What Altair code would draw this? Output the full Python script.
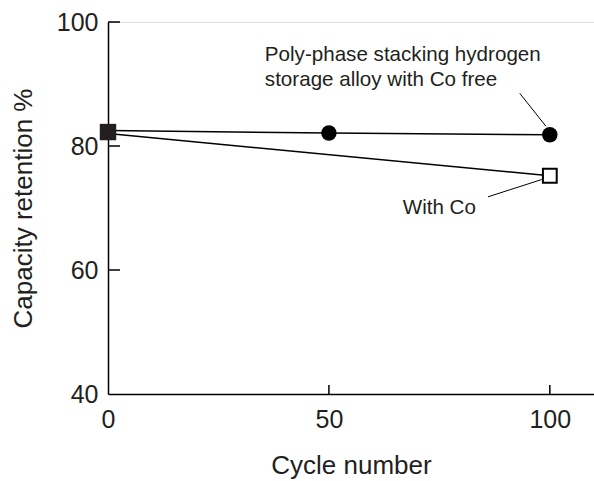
import altair as alt
import pandas as pd

# Capacity retention vs. cycle number
cycles_free = [0, 50, 100]
retention_free = [82.5, 82.1, 81.8]
cycles_co = [0, 100]
retention_co = [82.0, 75.2]

y_ticks = [40, 60, 80, 100]
x_ticks = [0, 50, 100]

FONT = "Liberation Sans"
INK = "#231f20"
W, H = 486, 372

x_scale = alt.Scale(domain=[0, 110], nice=False, zero=False)
y_scale = alt.Scale(domain=[40, 100], nice=False, zero=False)

free_df = pd.DataFrame({"cycle": cycles_free, "ret": retention_free})
co_df = pd.DataFrame({"cycle": cycles_co, "ret": retention_co})

x_enc = alt.X("cycle:Q", scale=x_scale,
              axis=alt.Axis(title="Cycle number", values=x_ticks, grid=False,
                            tickSize=0, labelPadding=13, labelFlush=False, domainColor="black",
                            domainWidth=1.5, labelFontSize=25, titleFontSize=26,
                            labelColor=INK, titleColor=INK, titleFontWeight="normal",
                            labelFont=FONT, titleFont=FONT, titlePadding=20))
y_enc = alt.Y("ret:Q", scale=y_scale,
              axis=alt.Axis(title="Capacity retention %", values=y_ticks, grid=False,
                            tickSize=0, labelPadding=10, labelFlush=False, domainColor="black",
                            domainWidth=1.5, labelFontSize=25, titleFontSize=26,
                            labelColor=INK, titleColor=INK, titleFontWeight="normal",
                            labelFont=FONT, titleFont=FONT, titlePadding=20))

line_free = alt.Chart(free_df).mark_line(color="black", strokeWidth=1.5).encode(x=x_enc, y=y_enc)
line_co = alt.Chart(co_df).mark_line(color="black", strokeWidth=1.5).encode(x="cycle:Q", y="ret:Q")

circles = alt.Chart(free_df[free_df.cycle > 0]).mark_point(
    shape="circle", filled=True, color="black", size=240, opacity=1
).encode(x="cycle:Q", y="ret:Q")

start_sq = alt.Chart(pd.DataFrame({"cycle": [0], "ret": [(retention_free[0] + retention_co[0]) / 2]})).mark_point(
    shape="square", filled=True, color="#231f20", size=270, opacity=1
).encode(x="cycle:Q", y="ret:Q")

open_sq = alt.Chart(co_df[co_df.cycle > 0]).mark_point(
    shape="square", filled=True, fill="white", stroke="black", strokeWidth=2, size=190, opacity=1
).encode(x="cycle:Q", y="ret:Q")

# inward tick marks
yt = alt.Chart(pd.DataFrame({"v": y_ticks[1:]})).mark_rule(color="black", strokeWidth=1.5).encode(
    y=alt.Y("v:Q", scale=y_scale), x=alt.value(0), x2=alt.value(12))
xt = alt.Chart(pd.DataFrame({"v": x_ticks[1:]})).mark_rule(color="black", strokeWidth=1.5).encode(
    x=alt.X("v:Q", scale=x_scale), y=alt.value(H), y2=alt.value(H - 9))

# annotations
labels = pd.DataFrame({
    "cycle": [35.5, 66.7],
    "ret": [94.7, 70.0],
    "text": [["Poly-phase stacking hydrogen", "storage alloy with Co free"], ["With Co"]],
})
text = alt.Chart(labels).mark_text(align="left", baseline="middle", font=FONT, fontSize=20.6,
                                   color=INK, lineHeight=25).encode(
    x="cycle:Q", y="ret:Q", text="text")

leaders = pd.DataFrame({
    "x1": [93.2, 86.0], "y1": [88.5, 71.8],
    "x2": [99.1, 98.2], "y2": [83.2, 74.6],
})
leader = alt.Chart(leaders).mark_rule(color="black", strokeWidth=1).encode(
    x=alt.X("x1:Q", scale=x_scale), y=alt.Y("y1:Q", scale=y_scale), x2="x2:Q", y2="y2:Q")

chart = alt.layer(line_free, line_co, yt, xt, leader, circles, open_sq, start_sq, text).properties(
    width=W, height=H,
    autosize=alt.AutoSizeParams(type="none"),
    padding={"left": 108, "top": 22, "right": 0, "bottom": 87},
).configure_view(stroke=None).configure(background="white")

chart.save("out.html", embed_options={"renderer": "svg", "actions": False})
